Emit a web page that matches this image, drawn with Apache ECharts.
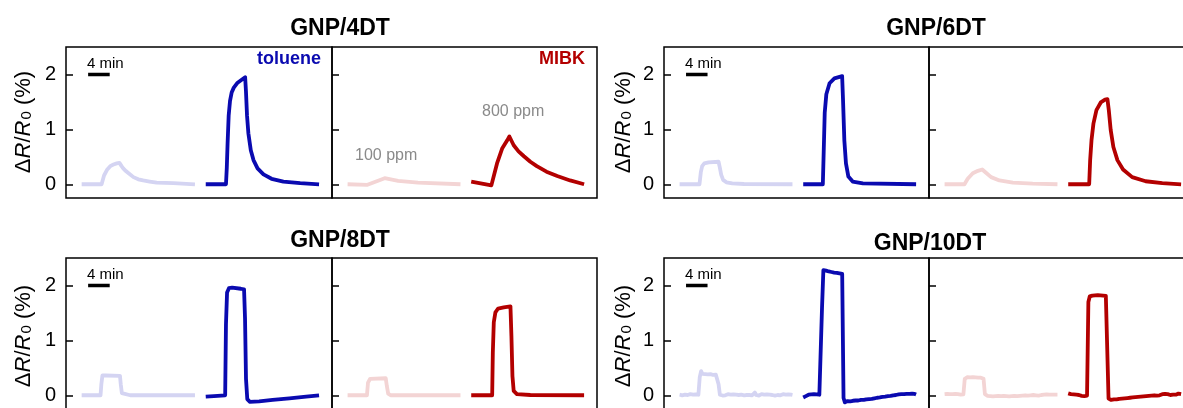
<!DOCTYPE html>
<html>
<head>
<meta charset="utf-8">
<title>GNP/nDT vapour response</title>
<script src="https://cdn.jsdelivr.net/npm/echarts@6/dist/echarts.min.js"></script>
<style>
  html, body { margin: 0; padding: 0; background: #fff; }
  #chart { width: 1183px; height: 408px; }
</style>
</head>
<body>
<div id="chart"></div>
<script>
// ---------------------------------------------------------------------------
// Data: relative resistance change ΔR/R0 (%) versus time (min).
// Each panel half shows one analyte; every run is 21 min long and the
// 800 ppm run is drawn RUN_GAP minutes after the start of the 100 ppm run.
// ---------------------------------------------------------------------------
const panelTitles = ['GNP/4DT', 'GNP/6DT', 'GNP/8DT', 'GNP/10DT'];
const analytes = ['toluene', 'MIBK'];
const concentrations = ['100 ppm', '800 ppm'];
const yTicks = [0, 1, 2];
const RUN_GAP = 23;          // min
const scaleBarMinutes = 4;   // "4 min" bar
const scaleBarStart = 1.2;   // min
const scaleBarLevel = 2;     // ΔR/R0 (%)

// GNP/4DT  [time (min), ΔR/R0 (%)]
const dt4Tol100 = [[0,0],[3.7,0],[4.15,0.16],[4.75,0.27],[5.3,0.33],[5.9,0.36],[6.5,0.38],[7.0,0.39],[7.4,0.33],[7.7,0.29],[8.2,0.24],[8.7,0.2],[9.6,0.13],[10.5,0.09],[11.4,0.07],[12.6,0.05],[13.9,0.03],[17,0.02],[21,0]];
const dt4Tol800 = [[0,0],[3.75,0],[3.9,0.3],[4.05,0.75],[4.25,1.25],[4.5,1.52],[4.8,1.67],[5.2,1.76],[5.9,1.85],[6.6,1.9],[7.3,1.95],[7.45,1.7],[7.65,1.25],[7.9,0.93],[8.35,0.62],[8.85,0.44],[9.6,0.29],[10.7,0.18],[12.2,0.1],[14.4,0.05],[17.5,0.02],[21,0]];
const dt4Mibk100 = [[0,0],[3.7,-0.01],[6.9,0.11],[9.4,0.06],[13.1,0.03],[21,0]];
const dt4Mibk800 = [[0,0.05],[3.75,-0.02],[4.8,0.38],[5.75,0.65],[6.7,0.8],[7.1,0.87],[7.9,0.71],[8.8,0.6],[9.8,0.51],[11,0.41],[12.2,0.33],[14,0.23],[16,0.15],[18.4,0.07],[21,0]];

// GNP/6DT
const dt6Tol100 = [[0,0],[3.7,0],[3.95,0.22],[4.2,0.33],[4.6,0.38],[5.4,0.4],[7.25,0.41],[7.45,0.32],[7.75,0.17],[8.1,0.08],[8.7,0.035],[9.8,0.015],[12,0.005],[21,0]];
const dt6Tol800 = [[0,0],[3.65,0],[3.8,0.55],[4.0,1.3],[4.3,1.64],[4.9,1.84],[5.8,1.93],[7.24,1.97],[7.4,1.55],[7.65,0.8],[7.95,0.38],[8.4,0.14],[9.2,0.05],[11.1,0.015],[21,0]];
const dt6Mibk100 = [[0,0],[3.7,0],[4.3,0.1],[5.25,0.2],[6.2,0.245],[7.0,0.27],[7.7,0.21],[8.65,0.13],[10.2,0.07],[12.7,0.03],[16.4,0.012],[21,0]];
const dt6Mibk800 = [[0,0],[3.9,0],[4.08,0.44],[4.33,0.8],[4.7,1.11],[5.25,1.35],[6.05,1.49],[6.85,1.54],[7.3,1.55],[7.55,1.35],[7.9,0.99],[8.4,0.68],[9.15,0.44],[10.2,0.27],[11.9,0.13],[14.4,0.055],[17.5,0.02],[21,0]];

// GNP/8DT
const dt8Tol100 = [[0,0],[3.5,0],[3.65,0.2],[3.85,0.36],[4.1,0.38],[4.5,0.36],[7.1,0.355],[7.25,0.2],[7.45,0.04],[7.8,0.01],[9,0],[21,0]];
const dt8Tol800 = [[0,-0.025],[1.5,-0.015],[3.6,0],[3.75,1.3],[3.95,1.87],[4.3,1.95],[4.9,1.96],[6.5,1.94],[7.1,1.93],[7.28,1.4],[7.46,0.3],[7.7,-0.07],[8.15,-0.12],[9.9,-0.11],[12.4,-0.085],[15.5,-0.055],[18.6,-0.025],[21,0]];
const dt8Mibk100 = [[0,0],[3.6,0],[3.8,0.23],[4.2,0.3],[7.1,0.31],[7.3,0.17],[7.55,0.03],[8,0],[21,0]];
const dt8Mibk800 = [[0,0],[3.9,0],[4.02,0.78],[4.2,1.33],[4.5,1.51],[5,1.58],[6.05,1.6],[7.3,1.62],[7.48,1.08],[7.67,0.35],[7.9,0.08],[8.5,0.02],[11,0.005],[21,0]];

// GNP/10DT: raw readings, one every SAMPLE_STEP minutes from t = 0 to 21 min
const SAMPLE_STEP = 0.25;
const dt10Tol100 = [
  0.01,0.02,0.0,0.015,0.01,0.025,0.005,0.015,0.02,0.0,0.01,0.02,0.015,0.005,0.01,
  0.33,0.44,0.39,0.37,0.385,0.375,0.38,0.37,0.385,0.375,0.37,0.38,0.375,0.37,
  0.2,0.01,
  0.01,-0.005,0.015,0.0,0.01,0.02,-0.005,0.01,0.005,0.015,
  0.0,0.01,0.02,0.005,-0.005,0.01,0.015,0.0,0.01,0.005,
  0.02,0.005,0.015,0.0,0.01,0.05,0.005,0.015,-0.005,0.01,
  0.02,0.0,0.01,0.005,0.015,0.0,0.01,0.02,0.005,0.01,
  -0.005,0.015,0.005,0.01,0.0,0.015,0.02,0.005,0.01,0.0,
  0.015,0.005,0.01,0.005
];
const dt10Tol800 = [
  -0.04,-0.03,-0.015,0.0,0.01,0.005,0.015,0.01,0.02,0.01,0.015,0.025,0.01,0.02,
  1.6,2.28,2.3,
  2.27,2.26,2.255,2.25,2.245,2.24,2.235,2.235,2.23,2.225,2.22,2.215,2.21,
  -0.05,-0.13,
  -0.125,-0.105,-0.135,-0.11,-0.125,-0.1,-0.125,-0.095,-0.12,-0.095,
  -0.115,-0.085,-0.11,-0.085,-0.105,-0.075,-0.1,-0.07,-0.09,-0.065,
  -0.085,-0.055,-0.08,-0.045,-0.07,-0.04,-0.06,-0.03,-0.055,-0.025,
  -0.045,-0.015,-0.04,-0.01,-0.03,0.0,-0.025,0.005,-0.015,0.015,
  -0.01,0.02,-0.005,0.02,0.0,0.025,0.0,0.025,0.005,0.03,
  0.005,0.025,0.015
];
const dt10Mibk100 = [
  0.02,0.01,0.025,0.015,0.02,0.01,0.02,0.015,0.025,0.01,0.02,0.015,0.01,0.02,0.015,
  0.3,0.32,0.33,0.32,0.325,0.32,0.33,0.32,0.325,0.315,0.32,0.325,0.32,0.315,
  0.3,0.02,
  0.0,-0.01,0.005,-0.015,-0.005,-0.02,-0.01,-0.015,-0.025,-0.01,
  -0.02,-0.015,-0.025,-0.01,-0.02,-0.015,-0.005,-0.02,-0.01,-0.015,
  -0.005,-0.01,0.0,-0.015,-0.005,-0.01,0.005,-0.005,-0.01,0.0,
  0.005,-0.005,0.01,0.0,-0.005,0.005,0.01,0.0,0.005,-0.005,
  0.01,0.005,0.0,0.01,0.005,0.015,0.0,0.01,0.005,0.01,
  0.0,0.01,0.005,0.01
];
const dt10Mibk800 = [
  0.035,0.03,0.02,0.025,0.015,0.02,0.01,0.015,0.005,0.0,-0.01,-0.005,-0.015,-0.01,-0.005,
  1.7,1.8,
  1.82,1.815,1.83,1.82,1.81,1.825,1.815,1.82,1.83,1.815,1.82,1.81,1.82,
  -0.06,-0.085,
  -0.085,-0.07,-0.075,-0.06,-0.075,-0.05,-0.065,-0.045,-0.06,-0.04,
  -0.055,-0.035,-0.05,-0.03,-0.045,-0.025,-0.04,-0.02,-0.035,-0.015,
  -0.03,-0.01,-0.025,-0.005,-0.02,0.0,-0.015,0.005,-0.01,0.01,
  -0.005,0.015,0.0,0.015,-0.005,0.02,0.0,0.015,0.02,0.0,
  0.025,0.005,0.02,0.025,0.005,0.025,0.01,0.03,0.01,0.025,
  0.03,0.01,0.02
];

// ---------------------------------------------------------------------------
// Styling and layout
// ---------------------------------------------------------------------------
const FONT = '"Liberation Sans", Arial, Helvetica, sans-serif';
const COLORS = {
  toluene: { light: '#d4d4f2', dark: '#0a0ab0' },
  MIBK:    { light: '#f3d4d4', dark: '#b30000' }
};
const LINE_W = 3.8;
const X_MIN = -2.9, X_MAX = 46.4;
const Y_MIN = -0.25, Y_MAX = 2.5;
const PLOT_H = 151;
const layout = [
  { left: 66,  top: 47,  w1: 266, w2: 265, titleX: 340, titleY: 29,  labelX: 22,  labelY: 122 },
  { left: 664, top: 47,  w1: 265, w2: 265, titleX: 936, titleY: 29,  labelX: 622, labelY: 122 },
  { left: 66,  top: 258, w1: 266, w2: 265, titleX: 340, titleY: 241, labelX: 22,  labelY: 336 },
  { left: 664, top: 258, w1: 265, w2: 265, titleX: 930, titleY: 244, labelX: 622, labelY: 336 }
];

const toPairs = values => values.map((v, i) => [i * SAMPLE_STEP, v]);
const shift = (pairs, dt) => pairs.map(([t, v]) => [t + dt, v]);

const runs = [
  { toluene: [dt4Tol100, dt4Tol800], MIBK: [dt4Mibk100, dt4Mibk800] },
  { toluene: [dt6Tol100, dt6Tol800], MIBK: [dt6Mibk100, dt6Mibk800] },
  { toluene: [dt8Tol100, dt8Tol800], MIBK: [dt8Mibk100, dt8Mibk800] },
  { toluene: [toPairs(dt10Tol100), toPairs(dt10Tol800)], MIBK: [toPairs(dt10Mibk100), toPairs(dt10Mibk800)] }
];

const option = {
  animation: false,
  backgroundColor: '#fff',
  grid: [], xAxis: [], yAxis: [], series: [], graphic: []
};

const lineSeries = (gi, data, color, z) => ({
  type: 'line', xAxisIndex: gi, yAxisIndex: gi, data,
  symbol: 'none', silent: true, z,
  lineStyle: { color, width: LINE_W, join: 'round' }
});

runs.forEach((panel, pi) => {
  const L = layout[pi];
  const halves = [
    { gas: 'toluene', x: L.left, w: L.w1 },
    { gas: 'MIBK', x: L.left + L.w1, w: L.w2 }
  ];
  halves.forEach((h, hi) => {
    const gi = option.grid.length;
    option.grid.push({
      left: h.x, top: L.top, width: h.w, height: PLOT_H,
      show: true, borderColor: '#000', borderWidth: 1.5, backgroundColor: 'transparent',
      containLabel: false, outerBoundsMode: 'none'
    });
    option.xAxis.push({ type: 'value', gridIndex: gi, min: X_MIN, max: X_MAX, show: false });
    option.yAxis.push({
      type: 'value', gridIndex: gi, min: Y_MIN, max: Y_MAX, position: 'left',
      axisLine: { show: false, onZero: false }, splitLine: { show: false },
      axisTick: { show: true, inside: true, length: 7, lineStyle: { color: '#000', width: 1.5 }, customValues: yTicks },
      axisLabel: { show: hi === 0, customValues: yTicks, fontSize: 20, fontFamily: FONT, color: '#000', margin: 10 }
    });
    const [r100, r800] = panel[h.gas];
    const c = COLORS[h.gas];
    option.series.push(lineSeries(gi, r100, c.light, 2));
    option.series.push(lineSeries(gi, shift(r800, RUN_GAP), c.dark, 3));
    if (hi === 0) {
      option.series.push({
        type: 'line', xAxisIndex: gi, yAxisIndex: gi, symbol: 'none', silent: true, z: 4,
        data: [[scaleBarStart, scaleBarLevel], [scaleBarStart + scaleBarMinutes, scaleBarLevel]],
        lineStyle: { color: '#000', width: 3.5 }
      });
    }
  });

  const txt = (x, y, text, extra) => ({
    type: 'text', x, y, silent: true, z: 10,
    style: Object.assign({
      text, fontFamily: FONT, fontSize: 15, fill: '#000',
      align: 'left', verticalAlign: 'middle',
      textAlign: 'left', textVerticalAlign: 'middle'
    }, extra || {})
  });

  // panel title
  option.graphic.push(txt(L.titleX, L.titleY, panelTitles[pi],
    { fontSize: 23, fontWeight: 'bold', align: 'center', textAlign: 'center' }));
  // scale bar caption
  option.graphic.push(txt(L.left + 21, L.top + 16.5, scaleBarMinutes + ' min', { fontSize: 15 }));
  // y-axis title, rotated
  const base = { fontFamily: FONT, fontSize: 22, fill: '#000', lineHeight: 25, verticalAlign: 'bottom' };
  option.graphic.push({
    type: 'text', x: L.labelX, y: L.labelY, rotation: Math.PI / 2, silent: true, z: 10,
    style: {
      text: '{n|Δ}{i|R}{n|/}{i|R}{s|0}{n| (%)}',
      align: 'center', verticalAlign: 'middle', textAlign: 'center', textVerticalAlign: 'middle',
      fontFamily: FONT, fontSize: 22, fill: '#000',
      rich: {
        n: Object.assign({}, base),
        i: Object.assign({}, base, { fontStyle: 'italic' }),
        s: Object.assign({}, base, { fontSize: 15, lineHeight: 15, verticalAlign: 'bottom', padding: [0, 0, 0, 1] })
      }
    }
  });

  if (pi === 0) {
    const right1 = L.left + L.w1, right2 = L.left + L.w1 + L.w2;
    option.graphic.push(txt(right1 - 11, L.top + 12, analytes[0],
      { fontSize: 18, fontWeight: 'bold', fill: COLORS.toluene.dark, align: 'right', textAlign: 'right' }));
    option.graphic.push(txt(right2 - 12, L.top + 12, analytes[1],
      { fontSize: 18, fontWeight: 'bold', fill: COLORS.MIBK.dark, align: 'right', textAlign: 'right' }));
    option.graphic.push(txt(right1 + 23, L.top + 109, concentrations[0], { fontSize: 16, fill: '#8a8a8a' }));
    option.graphic.push(txt(right1 + 150, L.top + 65, concentrations[1], { fontSize: 16, fill: '#8a8a8a' }));
  }
});

const chart = echarts.init(document.getElementById('chart'), null, { renderer: 'canvas', width: 1183, height: 408 });
chart.setOption(option);
</script>
</body>
</html>
